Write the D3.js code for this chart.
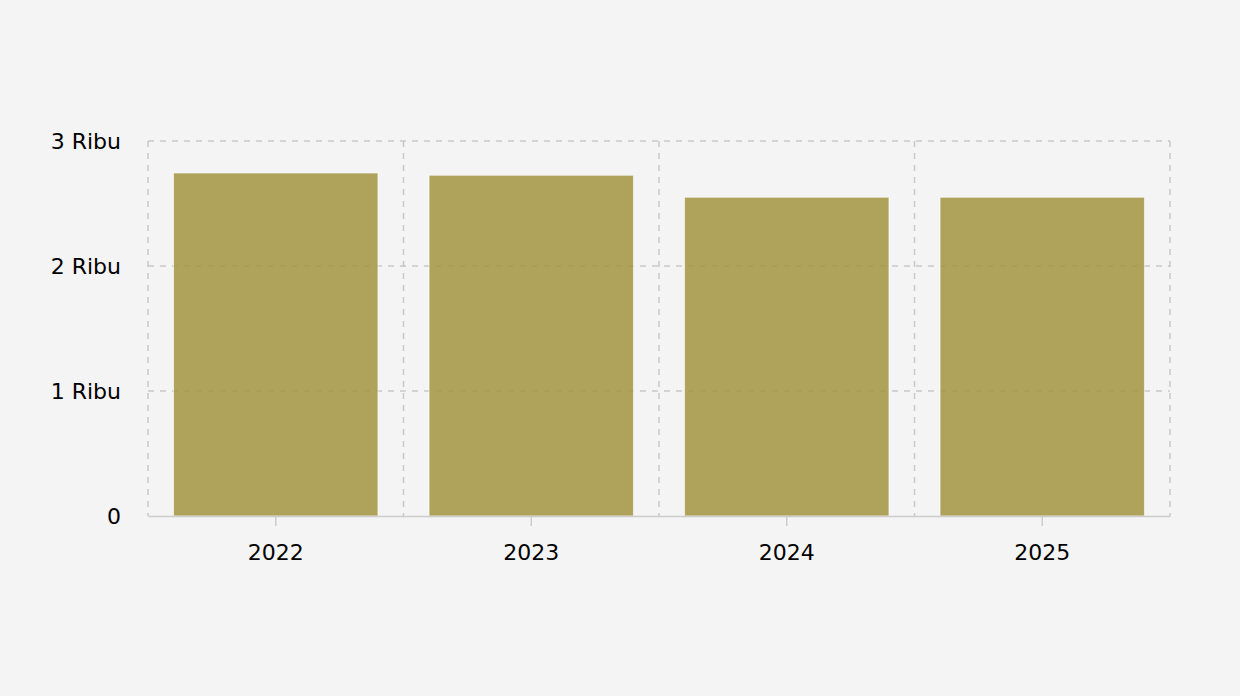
<!DOCTYPE html>
<html>
<head>
<meta charset="utf-8">
<script src="https://cdn.jsdelivr.net/npm/d3@7/dist/d3.min.js"></script>
<style>
  html, body { margin: 0; padding: 0; background: #f4f4f4; }
  svg { display: block; }
</style>
</head>
<body>
<svg id="chart" width="1240" height="696"></svg>
<script>
const categories = ["2022", "2023", "2024", "2025"];
const values = [2744, 2726, 2550, 2550];
const yTicks = [0, 1000, 2000, 3000];
const yTickLabels = ["0", "1 Ribu", "2 Ribu", "3 Ribu"];

const W = 1240, H = 696;
const margin = { left: 148, right: 70, top: 141, bottom: 180 };
const svg = d3.select("#chart");
svg.append("rect").attr("width", W).attr("height", H).attr("fill", "#f4f4f4");

const x = d3.scaleBand().domain(categories)
  .range([margin.left, W - margin.right]).paddingInner(0).paddingOuter(0);
const y = d3.scaleLinear().domain([0, 3000]).range([H - margin.bottom, margin.top]);

const font = "DejaVu Sans, Verdana, sans-serif";
const grid = svg.append("g");
grid.selectAll("line.h").data(yTicks.filter(d => d > 0)).enter().append("line")
  .attr("x1", margin.left).attr("x2", W - margin.right)
  .attr("y1", d => y(d)).attr("y2", d => y(d))
  .attr("stroke", "#c8c8c8").attr("stroke-width", 1.5).attr("stroke-dasharray", "6,6");
const bounds = categories.map(c => x(c)).concat([x(categories[categories.length - 1]) + x.bandwidth()]);
grid.selectAll("line.v").data(bounds).enter().append("line")
  .attr("x1", d => d).attr("x2", d => d)
  .attr("y1", y(3000)).attr("y2", y(0))
  .attr("stroke", "#c8c8c8").attr("stroke-width", 1.5).attr("stroke-dasharray", "6,6");

const barPad = 0.2;
const bw = x.bandwidth() * (1 - barPad);
svg.append("g").selectAll("rect").data(categories).enter().append("rect")
  .attr("x", c => x(c) + (x.bandwidth() - bw) / 2)
  .attr("width", bw)
  .attr("y", (c, i) => y(values[i]))
  .attr("height", (c, i) => y(0) - y(values[i]))
  .attr("fill", "rgb(162,148,65)")
  .attr("fill-opacity", 0.85)
  .attr("stroke", "#ffffff").attr("stroke-opacity", 0.6).attr("stroke-width", 1);

const xAxis = svg.append("g").attr("transform", `translate(0,${y(0)})`)
  .call(d3.axisBottom(x).tickSizeInner(10).tickSizeOuter(0).tickPadding(18));
xAxis.select(".domain").attr("stroke", "#cccccc").attr("stroke-width", 1.5);
xAxis.selectAll(".tick line").attr("stroke", "#cccccc").attr("stroke-width", 1.5);
xAxis.selectAll(".tick text").attr("font-family", font).attr("font-size", 22).attr("fill", "#000");

const yAxis = svg.append("g").attr("transform", `translate(${margin.left},0)`)
  .call(d3.axisLeft(y).tickValues(yTicks).tickFormat((d, i) => yTickLabels[i]).tickSize(0).tickPadding(27));
yAxis.select(".domain").remove();
yAxis.selectAll(".tick text").attr("font-family", font).attr("font-size", 22).attr("fill", "#000");
</script>
</body>
</html>
